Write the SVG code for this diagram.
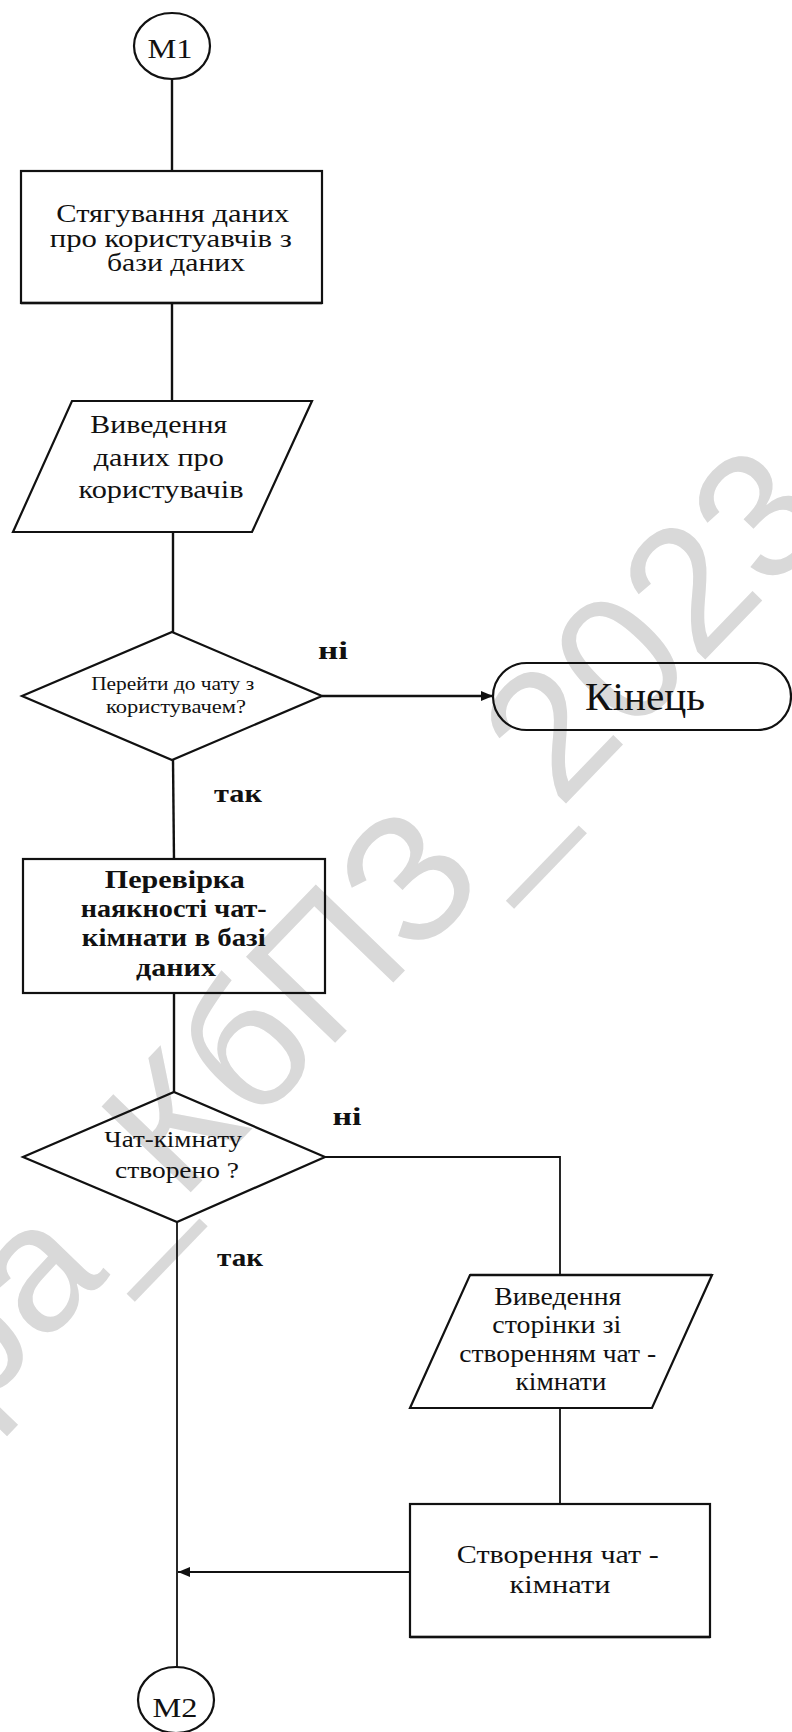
<svg xmlns="http://www.w3.org/2000/svg" width="792" height="1732" viewBox="0 0 792 1732">
<style>
.wm{font-family:"Liberation Sans",Arial,sans-serif;fill:#d9d9d9}
.t{font-family:"Liberation Serif","Times New Roman",serif;fill:#111;text-anchor:middle}
.b{font-weight:bold}
.s{fill:none;stroke:#111;stroke-width:2.2}
.c{fill:none;stroke:#111;stroke-width:2.4}
.c2{fill:none;stroke:#111;stroke-width:1.8}
</style>
<defs>
<marker id="ah" markerWidth="12" markerHeight="10" refX="12" refY="5" orient="auto" markerUnits="userSpaceOnUse">
<path d="M0,0 L12,5 L0,10 Z" fill="#111"/>
</marker>
</defs>
<rect width="792" height="1732" fill="#fff"/>
<text class="wm" font-size="180" text-anchor="end" transform="translate(838,522) rotate(-46)">ра_КбПЗ_2023</text>

<g id="connectors">
<line class="c" x1="172" y1="79" x2="172" y2="171"/>
<line class="c" x1="172" y1="303" x2="172" y2="401"/>
<line class="c" x1="173" y1="532" x2="173" y2="632"/>
<line class="c" x1="322" y1="696" x2="493" y2="696" marker-end="url(#ah)"/>
<line class="c" x1="173" y1="760" x2="174" y2="859"/>
<line class="c" x1="174" y1="993" x2="174" y2="1092"/>
<polyline class="c2" points="325,1157 560,1157 560,1275"/>
<line class="c2" x1="560" y1="1408" x2="560" y2="1504"/>
<line class="c2" x1="410" y1="1572" x2="178" y2="1572" marker-end="url(#ah)"/>
<line class="c2" x1="177" y1="1222" x2="177" y2="1667"/>
</g>

<g id="m1">
<ellipse class="s" cx="172" cy="46" rx="38" ry="33"/>
<text class="t" x="170" y="58" font-size="27" textLength="45" lengthAdjust="spacingAndGlyphs">M1</text>
</g>

<g id="load-users">
<rect class="s" x="21" y="171" width="301" height="132"/>
<line class="c" x1="21" y1="303" x2="322" y2="303" stroke-width="3.2"/>
<text class="t" font-size="26">
<tspan x="176" y="222" textLength="233" lengthAdjust="spacingAndGlyphs">Стягування даних</tspan>
<tspan x="174" y="247" textLength="242" lengthAdjust="spacingAndGlyphs">про користуавчів з</tspan>
<tspan x="176" y="271" textLength="138" lengthAdjust="spacingAndGlyphs">бази даних</tspan>
</text>
</g>

<g id="show-users">
<polygon class="s" points="72,401 312,401 252,532 13,532"/>
<text class="t" font-size="26">
<tspan x="162" y="433" textLength="137" lengthAdjust="spacingAndGlyphs">Виведення</tspan>
<tspan x="162" y="466" textLength="130" lengthAdjust="spacingAndGlyphs">даних про</tspan>
<tspan x="161" y="498" textLength="165" lengthAdjust="spacingAndGlyphs">користувачів</tspan>
</text>
</g>

<g id="dec-chat">
<polygon class="s" points="172,632 322,696 172,760 22,696"/>
<text class="t" font-size="19">
<tspan x="175" y="690" textLength="163" lengthAdjust="spacingAndGlyphs">Перейти до чату з</tspan>
<tspan x="176" y="713" textLength="140" lengthAdjust="spacingAndGlyphs">користувачем?</tspan>
</text>
<text class="t b" x="333" y="659" font-size="26" textLength="30" lengthAdjust="spacingAndGlyphs">ні</text>
<text class="t b" x="238" y="802" font-size="26" textLength="48" lengthAdjust="spacingAndGlyphs">так</text>
</g>

<g id="end">
<rect class="s" x="493" y="663" width="298" height="67" rx="33.5" ry="33.5"/>
<text class="t" x="645" y="710" font-size="40" textLength="120" lengthAdjust="spacingAndGlyphs">Кінець</text>
</g>

<g id="check-room">
<rect class="s" x="23" y="859" width="302" height="134" stroke-width="3"/>
<text class="t b" font-size="26">
<tspan x="178" y="888" textLength="140" lengthAdjust="spacingAndGlyphs">Перевірка</tspan>
<tspan x="177" y="917" textLength="186" lengthAdjust="spacingAndGlyphs">наякності чат-</tspan>
<tspan x="177" y="946" textLength="184" lengthAdjust="spacingAndGlyphs">кімнати в базі</tspan>
<tspan x="176" y="976" textLength="80" lengthAdjust="spacingAndGlyphs">даних</tspan>
</text>
</g>

<g id="dec-room">
<polygon class="s" points="174,1092 325,1157 177,1222 23,1157"/>
<text class="t" font-size="23">
<tspan x="176" y="1147" textLength="138" lengthAdjust="spacingAndGlyphs">Чат-кімнату</tspan>
<tspan x="177" y="1178" textLength="124" lengthAdjust="spacingAndGlyphs">створено ?</tspan>
</text>
<text class="t b" x="347" y="1125" font-size="26" textLength="29" lengthAdjust="spacingAndGlyphs">ні</text>
<text class="t b" x="240" y="1266" font-size="26" textLength="46" lengthAdjust="spacingAndGlyphs">так</text>
</g>

<g id="show-create-page">
<polygon class="s" points="470,1275 712,1275 652,1408 410,1408"/>
<line class="c" x1="470" y1="1275" x2="712" y2="1275" stroke-width="3.4"/>
<text class="t" font-size="26">
<tspan x="561" y="1305" textLength="127" lengthAdjust="spacingAndGlyphs">Виведення</tspan>
<tspan x="560" y="1333" textLength="129" lengthAdjust="spacingAndGlyphs">сторінки зі</tspan>
<tspan x="561" y="1362" textLength="197" lengthAdjust="spacingAndGlyphs">створенням чат -</tspan>
<tspan x="561" y="1390" textLength="91" lengthAdjust="spacingAndGlyphs">кімнати</tspan>
</text>
</g>

<g id="create-room">
<rect class="s" x="410" y="1504" width="300" height="133"/>
<line class="c" x1="410" y1="1637" x2="710" y2="1637" stroke-width="3.4"/>
<text class="t" font-size="26">
<tspan x="561" y="1563" textLength="202" lengthAdjust="spacingAndGlyphs">Створення чат -</tspan>
<tspan x="560" y="1593" textLength="101" lengthAdjust="spacingAndGlyphs">кімнати</tspan>
</text>
</g>

<g id="m2">
<ellipse class="s" cx="176" cy="1700" rx="38" ry="33"/>
<text class="t" x="175" y="1717" font-size="27" textLength="45" lengthAdjust="spacingAndGlyphs">M2</text>
</g>
</svg>
